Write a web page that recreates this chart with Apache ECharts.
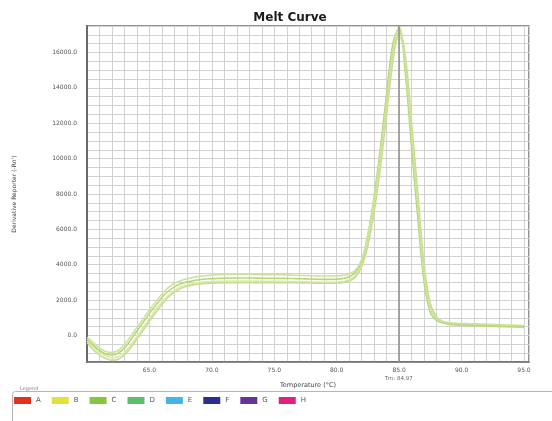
<!DOCTYPE html>
<html>
<head>
<meta charset="utf-8">
<script src="https://cdn.jsdelivr.net/npm/echarts@6/dist/echarts.min.js"></script>
<style>html,body{margin:0;padding:0;background:#fff}#c{width:552px;height:421px}</style>
</head>
<body>
<div id="c"></div>
<script>
var temps = [60,60.5,61,61.5,62,62.5,63,63.5,64,64.5,65,65.5,66,66.5,67,67.5,68,68.5,69,69.5,70,70.5,71,71.5,72,72.5,73,73.5,74,74.5,75,75.5,76,76.5,77,77.5,78,78.5,79,79.5,80,80.5,81,81.5,82,82.5,83,83.5,84,84.5,85,85.5,86,86.5,87,87.5,88,88.5,89,89.5,90,90.5,91,91.5,92,92.5,93,93.5,94,94.5,95];
var wellC1 = [-100,-400,-700,-900,-950,-850,-500,-50,450,950,1450,1900,2350,2700,2950,3100,3200,3280,3340,3380,3410,3430,3440,3450,3450,3450,3450,3440,3440,3440,3430,3430,3420,3410,3400,3390,3380,3370,3360,3360,3370,3400,3480,3700,4300,5700,7700,10200,13200,16100,17450,15300,11300,7300,3400,1500,950,780,720,700,680,670,660,650,640,630,615,600,590,575,560];
var wellD = [-400,-800,-1100,-1300,-1400,-1350,-1100,-700,-200,300,800,1300,1750,2150,2450,2650,2780,2860,2910,2940,2960,2970,2980,2985,2990,2990,2990,2990,2990,2990,2985,2985,2980,2980,2975,2970,2965,2960,2955,2950,2960,2990,3080,3300,3900,5100,7000,9500,12500,15500,17200,15800,12000,8000,4000,1800,1050,780,650,600,570,555,540,530,520,510,500,490,480,470,460];
var wellC2 = [-200,-550,-850,-1050,-1100,-1000,-700,-250,250,750,1250,1700,2150,2500,2750,2920,3030,3100,3150,3190,3210,3230,3240,3250,3250,3250,3250,3245,3240,3240,3235,3230,3225,3220,3210,3200,3190,3180,3170,3170,3180,3220,3320,3560,4200,5700,7900,10600,13700,16500,17400,14800,10600,6600,3000,1300,850,700,640,620,600,590,580,570,560,550,540,530,520,510,500];
var wellB = [-300,-650,-950,-1150,-1250,-1200,-950,-550,-50,450,950,1450,1900,2250,2550,2750,2870,2950,3000,3030,3050,3060,3070,3080,3080,3080,3080,3075,3070,3070,3065,3060,3055,3050,3040,3030,3020,3010,3000,3000,3010,3050,3150,3400,4050,5400,7400,10000,13000,15900,16900,15500,11600,7700,3700,1650,1000,800,700,660,640,625,610,600,590,580,570,560,550,540,530];
var legendNames = ['A','B','C','D','E','F','G','H'];
var legendColors = ['#e0321e','#e3e03c','#86c443','#5cbf6e','#45b3e3','#27318f','#663399','#e0217f'];
var tmValue = 84.97;
var tmLabel = 'Tm: 84.97';

function pairs(vals){ return temps.map(function(t,i){ return [t, vals[i]]; }); }

var chart = echarts.init(document.getElementById('c'), null, {renderer:'canvas'});
var lineCommon = {type:'line', showSymbol:false, smooth:0.35};
var series = [
  Object.assign({}, lineCommon, {name:'B', data:pairs(wellB), itemStyle:{color:'#dbe9ab'}, lineStyle:{width:1.6,color:'#dbe9ab'}}),
  Object.assign({}, lineCommon, {name:'D', data:pairs(wellD), itemStyle:{color:'#c6de92'}, lineStyle:{width:1.6,color:'#c6de92'}}),
  Object.assign({}, lineCommon, {name:'C', data:pairs(wellC2), itemStyle:{color:'#b6d67a'}, lineStyle:{width:1.6,color:'#b6d67a'}}),
  Object.assign({}, lineCommon, {name:'C', data:pairs(wellC1), itemStyle:{color:'#cde39c'}, lineStyle:{width:1.6,color:'#cde39c'},
    markLine:{silent:true, symbol:'none', animation:false,
      lineStyle:{color:'#8c8c8c', width:1.5, type:'solid'},
      label:{show:true, position:'start', distance:14, formatter:tmLabel, fontSize:5.5, color:'#666', fontFamily:'DejaVu Sans'},
      data:[{xAxis:tmValue}]}})
];
['A','E','F','G','H'].forEach(function(n){
  series.push({type:'line', name:n, data:[], itemStyle:{color:legendColors[legendNames.indexOf(n)]}});
});

chart.setOption({
  animation:false,
  backgroundColor:'#ffffff',
  title:{text:'Melt Curve', left:285, top:7, textAlign:'center',
    textStyle:{fontFamily:'DejaVu Sans', fontWeight:'bold', fontSize:12, color:'#1a1a1a'}},
  grid:{left:87, right:23, top:26, bottom:59, show:true, borderColor:'#707070', borderWidth:1.5, backgroundColor:'#ffffff'},
  legend:{left:9, top:392, icon:'rect', itemWidth:17, itemHeight:7, itemGap:11,
    textStyle:{fontSize:7, color:'#555', fontFamily:'DejaVu Sans'},
    data:legendNames.map(function(n,i){ return {name:n, itemStyle:{color:legendColors[i]}}; })},
  xAxis:{type:'value', min:60, max:95.4, interval:1,
    name:'Temperature (°C)', nameLocation:'middle', nameGap:20,
    nameTextStyle:{fontSize:6.5, color:'#444', fontFamily:'DejaVu Sans'},
    axisLine:{show:true, onZero:false, lineStyle:{color:'#707070', width:1.5}},
    axisTick:{show:false},
    axisLabel:{fontSize:6, color:'#555', margin:5, fontFamily:'DejaVu Sans',
      formatter:function(v){ return (v>60 && Math.abs(v%5)<1e-6) ? v.toFixed(1) : ''; }},
    splitLine:{show:true, lineStyle:{color:'#d2d2d2', width:1}}},
  yAxis:{type:'value', min:-1500, max:17500, interval:500,
    name:"Derivative Reporter (-Rn')", nameLocation:'middle', nameGap:70,
    nameTextStyle:{fontSize:6, color:'#444', fontFamily:'DejaVu Sans'},
    axisLine:{show:true, onZero:false, lineStyle:{color:'#6a6a6a', width:2}},
    axisTick:{show:false},
    axisLabel:{fontSize:6, color:'#555', margin:10, fontFamily:'DejaVu Sans',
      formatter:function(v){ return (Math.abs(v%2000)<1e-6) ? v.toFixed(1) : ''; }},
    splitLine:{show:true, lineStyle:{color:'#d2d2d2', width:1}}},
  graphic:[
    {type:'rect', left:10, top:389, shape:{width:560, height:40, r:3}, style:{fill:'none', stroke:'#b5b5b5', lineWidth:1}, silent:true},
    {type:'text', left:20, top:386, style:{text:'Legend', fontSize:5, fill:'#888', backgroundColor:'#fff', fontFamily:'DejaVu Sans'}, silent:true}
  ],
  series:series
});
</script>
</body>
</html>
